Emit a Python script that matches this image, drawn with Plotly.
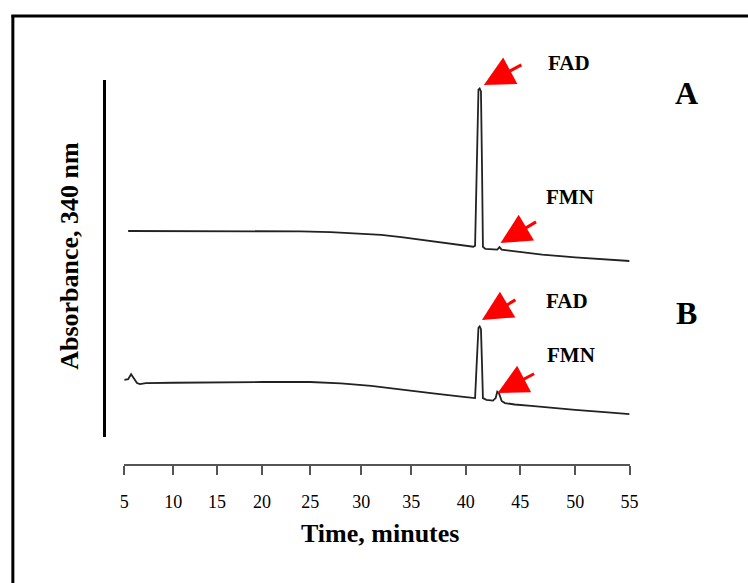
import numpy as np
import plotly.graph_objects as go

# ---- data -------------------------------------------------------------
# Chromatogram A (absorbance at 340 nm, arbitrary units, stacked offset)
time_a = [5.4, 8.0, 12.0, 16.0, 20.0, 24.0, 27.0, 30.0, 32.0, 34.0, 36.0, 38.0,
          40.0, 40.7, 40.86, 41.0, 41.17, 41.28, 41.4, 41.5, 41.58, 41.8,
          42.5, 42.9, 43.1, 43.3, 44.0, 45.0, 47.0, 50.0, 53.0, 55.0]
abs_a = [57.7, 57.7, 57.6, 57.7, 57.6, 57.6, 57.4, 57.0, 56.6, 56.0, 55.2, 54.3,
         53.5, 53.3, 53.6, 75.0, 97.3, 97.6, 96.8, 75.0, 53.3, 52.7,
         52.7, 52.5, 53.2, 52.5, 52.2, 51.8, 51.1, 50.3, 49.6, 49.3]

# Chromatogram B
time_b = [5.0, 5.4, 5.7, 6.0, 6.3, 6.6, 7.2, 10.0, 15.0, 20.0, 25.0, 28.0, 31.0,
          34.0, 37.0, 40.0, 40.7, 40.86, 41.0, 41.17, 41.28, 41.4, 41.5, 41.58,
          41.9, 42.5, 42.75, 42.9, 43.05, 43.3, 43.6, 44.5, 46.0, 48.0, 50.0,
          53.0, 55.0]
abs_b = [16.0, 16.2, 17.6, 16.5, 15.1, 14.8, 15.1, 15.2, 15.4, 15.4, 15.4, 15.0, 14.3,
         13.2, 12.2, 11.2, 10.8, 10.9, 20.0, 30.6, 31.0, 30.2, 20.0, 10.9,
         10.4, 10.2, 10.9, 12.7, 12.3, 10.1, 9.5, 9.1, 8.7, 8.1, 7.6,
         6.9, 6.4]

# Time axis: minute marks and where each mark sits along the recorder chart
time_marks = [5, 10, 15, 20, 25, 30, 35, 40, 45, 50, 55]
time_labels = [str(t) for t in time_marks]
mark_offset = [0, 50, 94.5, 140.5, 189.5, 241.5, 292.5, 348, 403.5, 459.5, 515]


def chart_pos(t):
    """Convert minutes to position along the recorder chart."""
    return np.interp(t, time_marks, mark_offset)


W, H = 748, 583
SERIF = "Liberation Serif, Times New Roman, serif"
TRACE = "#222222"
RED = "#ff0000"


def px(x):
    return x / W


def py(y):
    return 1 - y / H


fig = go.Figure()
for t, a in ((time_a, abs_a), (time_b, abs_b)):
    fig.add_trace(go.Scatter(
        x=chart_pos(np.array(t)), y=a, mode="lines",
        line=dict(color=TRACE, width=1.8), hoverinfo="skip", showlegend=False,
    ))

fig.update_layout(
    width=W, height=H,
    margin=dict(l=0, r=0, t=0, b=0),
    paper_bgcolor="white", plot_bgcolor="white",
    xaxis=dict(
        domain=[px(121.5), px(636.5)], range=[mark_offset[0], mark_offset[-1]],
        anchor="free", position=py(464.5),
        showgrid=False, zeroline=False,
        showline=True, linecolor="#555555", linewidth=2,
        ticks="outside", ticklen=9, tickwidth=2, tickcolor="#555555",
        tickvals=mark_offset, ticktext=time_labels,
        tickfont=dict(family=SERIF, size=18, color="black"),
        ticklabelstandoff=12,
    ),
    yaxis=dict(
        domain=[py(437), py(80)], range=[0, 100],
        anchor="free", position=px(101),
        showgrid=False, zeroline=False,
        showline=True, linecolor="black", linewidth=2.5,
        ticks="", showticklabels=False,
    ),
)

# outer frame: left and top edges of the panel border
fig.add_shape(type="line", xref="paper", yref="paper",
              x0=px(8), x1=px(8), y0=-0.02, y1=py(15),
              line=dict(color="black", width=3))
fig.add_shape(type="line", xref="paper", yref="paper",
              x0=px(6.5), x1=1.03, y0=py(16), y1=py(16),
              line=dict(color="black", width=3))

annotations = [
    dict(x=px(65), y=py(256), text="<b>Absorbance, 340 nm</b>", textangle=-90,
         font=dict(family=SERIF, size=26, color="black")),
    dict(x=px(382), y=py(533), text="<b>Time, minutes</b>",
         font=dict(family=SERIF, size=26, color="black")),
    dict(x=px(694), y=py(93), text="<b>A</b>", font=dict(family=SERIF, size=32, color="black")),
    dict(x=px(694), y=py(313), text="<b>B</b>", font=dict(family=SERIF, size=32, color="black")),
    dict(x=px(575), y=py(63), text="<b>FAD</b>", font=dict(family=SERIF, size=21, color="black")),
    dict(x=px(576), y=py(197), text="<b>FMN</b>", font=dict(family=SERIF, size=21, color="black")),
    dict(x=px(573), y=py(301), text="<b>FAD</b>", font=dict(family=SERIF, size=21, color="black")),
    dict(x=px(577), y=py(355), text="<b>FMN</b>", font=dict(family=SERIF, size=21, color="black")),
]
for a in annotations:
    a.update(xref="paper", yref="paper", showarrow=False, xanchor="center", yanchor="middle")
    fig.add_annotation(**a)

# red pointer arrows: (tip x, tip y, tail dx, tail dy) in pixels
arrows = [(488, 85, 39, -21), (505, 243, 37, -22), (486, 320, 35, -21), (502, 393, 38, -20)]
for x, y, dx, dy in arrows:
    fig.add_annotation(
        xref="paper", yref="paper", x=px(x), y=py(y), ax=dx, ay=dy,
        text="", showarrow=True, arrowhead=2, arrowsize=2.0, arrowwidth=3,
        arrowcolor=RED,
    )

fig.write_html("out.html")
